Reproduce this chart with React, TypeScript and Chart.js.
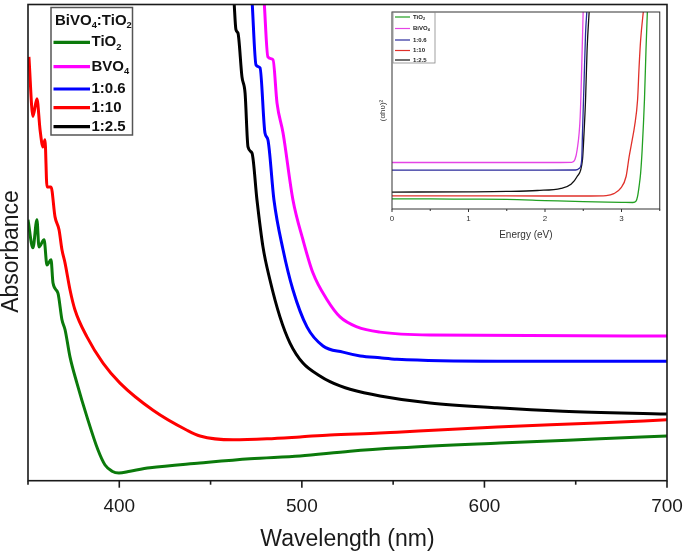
import React, { useEffect, useRef } from "react";
import { Chart, registerables } from "chart.js";

Chart.register(...registerables);

const FONT = "'Liberation Sans', Arial, Helvetica, sans-serif";

// ---------- Main chart data (wavelength nm vs absorbance, a.u.) ----------
const tio2Wl = [350.0, 352.7, 354.9, 356.0, 358.8, 360.4, 362.6, 363.7, 366.4, 368.6, 370.3, 373.0, 376.8, 382.3, 388.3, 392.2, 396.0, 399.8, 405.9, 416.8, 444.2, 471.6, 499.0, 526.4, 553.7, 608.5, 663.3, 700];
const tio2Abs = [0.548, 0.489, 0.548, 0.491, 0.506, 0.453, 0.464, 0.415, 0.394, 0.338, 0.317, 0.26, 0.205, 0.134, 0.065, 0.033, 0.02, 0.016, 0.02, 0.027, 0.037, 0.046, 0.052, 0.062, 0.069, 0.079, 0.088, 0.094];

const bvoWl = [479.3, 481.4, 484.2, 486.4, 489.7, 495.1, 500.6, 506.1, 513.8, 520.9, 530.2, 542.8, 570.2, 700];
const bvoAbs = [1.01, 0.89, 0.884, 0.793, 0.73, 0.59, 0.506, 0.436, 0.38, 0.344, 0.323, 0.312, 0.306, 0.304];

const r06Wl = [472.7, 474.9, 477.1, 479.8, 481.4, 484.7, 489.7, 495.1, 502.8, 511.6, 522.5, 532.0, 542.8, 552.1, 606.9, 700];
const r06Abs = [1.01, 0.873, 0.867, 0.73, 0.716, 0.59, 0.485, 0.401, 0.323, 0.283, 0.27, 0.262, 0.258, 0.255, 0.251, 0.251];

const r10Wl = [350.5, 352.7, 354.9, 356.6, 358.2, 359.3, 360.4, 362.6, 364.8, 367.0, 368.6, 370.3, 373.0, 375.7, 382.3, 391.1, 400.4, 418.5, 437.1, 444.2, 462.3, 480.9, 499.0, 515.4, 542.8, 552.1, 606.9, 661.6, 700];
const r10Abs = [0.89, 0.765, 0.802, 0.737, 0.701, 0.716, 0.617, 0.617, 0.554, 0.527, 0.485, 0.457, 0.401, 0.359, 0.302, 0.247, 0.205, 0.148, 0.106, 0.094, 0.086, 0.088, 0.092, 0.096, 0.1, 0.102, 0.113, 0.121, 0.128];

const r25Wl = [462.8, 463.9, 465.0, 467.2, 468.9, 470.5, 472.7, 475.4, 478.7, 482.5, 488.0, 493.5, 500.6, 509.9, 515.4, 520.9, 526.4, 542.8, 570.2, 606.9, 643.0, 700];
const r25Abs = [1.01, 0.947, 0.94, 0.848, 0.814, 0.701, 0.688, 0.59, 0.491, 0.422, 0.344, 0.289, 0.247, 0.22, 0.208, 0.199, 0.192, 0.178, 0.163, 0.153, 0.146, 0.14];

const mainLabels = ["TiO2", "BVO4", "1:0.6", "1:10", "1:2.5"];
const mainLegendTitle = "BiVO4:TiO2";
const mainColors = ["#0b7a0b", "#ff00ff", "#0000ff", "#ff0000", "#000000"];
const xTickValues = [350, 400, 450, 500, 550, 600, 650, 700];

// ---------- Inset data (energy eV vs (αhν)^2, a.u.) ----------
const inTio2E = [0, 0.5, 1.0, 1.5, 2.0, 2.5, 3.0, 3.15, 3.19, 3.21, 3.23, 3.25, 3.27, 3.3, 3.32, 3.34];
const inTio2V = [0.051, 0.051, 0.05, 0.049, 0.043, 0.037, 0.034, 0.033, 0.04, 0.064, 0.115, 0.182, 0.3, 0.553, 0.806, 1.02];

const inBvoE = [0, 1, 2, 2.35, 2.39, 2.42, 2.46, 2.48, 2.5];
const inBvoV = [0.236, 0.236, 0.236, 0.237, 0.25, 0.3, 0.469, 0.722, 1.02];

const in06E = [0, 1, 2, 2.4, 2.45, 2.48, 2.49, 2.51, 2.53, 2.55];
const in06V = [0.197, 0.197, 0.197, 0.198, 0.207, 0.25, 0.384, 0.637, 0.89, 1.02];

const in10E = [0, 1, 2, 2.6, 2.8, 2.9, 2.99, 3.06, 3.1, 3.14, 3.17, 3.21, 3.23, 3.25, 3.29];
const in10V = [0.067, 0.067, 0.066, 0.066, 0.068, 0.078, 0.106, 0.165, 0.266, 0.351, 0.418, 0.553, 0.722, 0.857, 1.02];

const in25E = [0, 1, 1.5, 1.9, 2.21, 2.34, 2.42, 2.49, 2.51, 2.53, 2.55, 2.58];
const in25V = [0.086, 0.087, 0.089, 0.094, 0.105, 0.126, 0.165, 0.25, 0.384, 0.553, 0.806, 1.02];

const insetLabels = ["TiO2", "BiVO4", "1:0.6", "1:10", "1:2.5"];
const insetColors = ["#22a022", "#e545e5", "#2b2b9c", "#e0302a", "#111111"];
const insetTickValues = [0, 0.5, 1, 1.5, 2, 2.5, 3, 3.5];

function pts(xs: number[], ys: number[]) {
  return xs.map((x, i) => ({ x, y: ys[i] }));
}

// split "TiO2" into segments with subscripted digits that follow a letter
function segs(label: string): [string, boolean][] {
  const out: [string, boolean][] = [];
  const re = /([A-Za-z])(\d+)/g;
  let last = 0;
  let m: RegExpExecArray | null;
  while ((m = re.exec(label))) {
    out.push([label.slice(last, m.index + 1), false]);
    out.push([m[2], true]);
    last = m.index + m[0].length;
  }
  if (last < label.length) out.push([label.slice(last), false]);
  return out;
}

function drawRich(ctx: CanvasRenderingContext2D, label: string, x: number, y: number, size: number, bold: boolean) {
  let cx = x;
  ctx.textBaseline = "middle";
  ctx.textAlign = "left";
  for (const [t, sub] of segs(label)) {
    const s = sub ? size * 0.62 : size;
    ctx.font = `${bold ? "bold " : ""}${s}px ${FONT}`;
    ctx.fillText(t, cx, sub ? y + size * 0.32 : y);
    cx += ctx.measureText(t).width;
  }
}

const mainDecor = {
  id: "mainDecor",
  afterDraw(chart: any) {
    const ctx: CanvasRenderingContext2D = chart.ctx;
    const { left, right, top, bottom } = chart.chartArea;
    const xs = chart.scales.x;
    ctx.save();
    // frame
    ctx.strokeStyle = "#1a1a1a";
    ctx.lineWidth = 1.6;
    ctx.strokeRect(left, top, right - left, bottom - top);
    // ticks
    for (const v of xTickValues) {
      const px = xs.getPixelForValue(v);
      const len = v % 100 === 0 ? 7 : 4;
      ctx.beginPath();
      ctx.moveTo(px, bottom);
      ctx.lineTo(px, bottom + len);
      ctx.stroke();
    }
    // y title
    ctx.save();
    ctx.translate(12, 251.5);
    ctx.rotate(-Math.PI / 2);
    ctx.fillStyle = "#1a1a1a";
    ctx.font = `23px ${FONT}`;
    ctx.textAlign = "center";
    ctx.textBaseline = "middle";
    ctx.fillText("Absorbance", 0, 0);
    ctx.restore();
    // legend
    ctx.strokeStyle = "#555";
    ctx.lineWidth = 1.5;
    ctx.fillStyle = "#fff";
    ctx.fillRect(51, 7.5, 81.5, 127.5);
    ctx.strokeRect(51, 7.5, 81.5, 127.5);
    ctx.fillStyle = "#111";
    drawRich(ctx, mainLegendTitle, 55, 21, 15, true);
    const ys = [42.3, 66.7, 89, 107.7, 126.7];
    chart.data.datasets.forEach((ds: any, i: number) => {
      ctx.strokeStyle = ds.borderColor;
      ctx.lineWidth = 3.2;
      ctx.beginPath();
      ctx.moveTo(53.5, ys[i]);
      ctx.lineTo(90, ys[i]);
      ctx.stroke();
      ctx.fillStyle = "#111";
      drawRich(ctx, ds.label, 91.5, ys[i], 15, true);
    });
    ctx.restore();
  },
};

const insetDecor = {
  id: "insetDecor",
  afterDraw(chart: any) {
    const ctx: CanvasRenderingContext2D = chart.ctx;
    const { left, right, top, bottom } = chart.chartArea;
    const xs = chart.scales.x;
    ctx.save();
    ctx.strokeStyle = "#333";
    ctx.lineWidth = 1;
    ctx.strokeRect(left, top, right - left, bottom - top);
    for (const v of insetTickValues) {
      const px = xs.getPixelForValue(v);
      const len = Math.abs(v - Math.round(v)) < 1e-6 ? 3 : 2;
      ctx.beginPath();
      ctx.moveTo(px, bottom);
      ctx.lineTo(px, bottom + len);
      ctx.stroke();
    }
    // legend
    ctx.strokeStyle = "#888";
    ctx.lineWidth = 0.8;
    ctx.fillStyle = "#fff";
    ctx.fillRect(left + 1, top + 0.5, 42, 50.5);
    ctx.strokeRect(left + 1, top + 0.5, 42, 50.5);
    const ys = [17, 28.5, 40, 50.5, 60];
    chart.data.datasets.forEach((ds: any, i: number) => {
      ctx.strokeStyle = ds.borderColor;
      ctx.lineWidth = 1.2;
      ctx.beginPath();
      ctx.moveTo(left + 3, ys[i]);
      ctx.lineTo(left + 18, ys[i]);
      ctx.stroke();
      ctx.fillStyle = "#222";
      drawRich(ctx, ds.label, left + 21, ys[i], 6, true);
    });
    ctx.restore();
  },
};

export default function App() {
  const mainRef = useRef<HTMLCanvasElement>(null);
  const insetRef = useRef<HTMLCanvasElement>(null);

  useEffect(() => {
    const mainSeries = [
      pts(tio2Wl, tio2Abs),
      pts(bvoWl, bvoAbs),
      pts(r06Wl, r06Abs),
      pts(r10Wl, r10Abs),
      pts(r25Wl, r25Abs),
    ];
    const main = new Chart(mainRef.current!, {
      type: "line",
      data: {
        datasets: mainSeries.map((d, i) => ({
          label: mainLabels[i],
          data: d,
          borderColor: mainColors[i],
          borderWidth: 3,
          pointRadius: 0,
          cubicInterpolationMode: "monotone" as const,
          fill: false,
        })),
      },
      options: {
        responsive: false,
        animation: false,
        layout: { padding: { left: 28, right: 18, top: 4.5, bottom: 0 } },
        plugins: { legend: { display: false }, tooltip: { enabled: false } },
        scales: {
          x: {
            type: "linear",
            min: 350,
            max: 700,
            afterFit: (s: any) => {
              s.height = 74.3;
            },
            grid: {
              display: true,
              drawOnChartArea: false,
              drawTicks: true,
              tickLength: 15,
              color: "rgba(0,0,0,0)",
              tickColor: "rgba(0,0,0,0)",
            },
            border: { display: false },
            ticks: {
              stepSize: 50,
              autoSkip: false,
              maxRotation: 0,
              padding: 0,
              color: "#1a1a1a",
              font: { family: FONT, size: 19 },
              callback: (v: any) => (Number(v) % 100 === 0 ? String(v) : ""),
            },
            title: {
              display: true,
              text: "Wavelength (nm)",
              color: "#1a1a1a",
              font: { family: FONT, size: 23 },
              padding: { top: 0, bottom: 1.5 },
            },
          },
          y: { display: false, min: 0, max: 1 },
        },
      },
      plugins: [mainDecor],
    });

    const insetSeries = [
      pts(inTio2E, inTio2V),
      pts(inBvoE, inBvoV),
      pts(in06E, in06V),
      pts(in10E, in10V),
      pts(in25E, in25V),
    ];
    const inset = new Chart(insetRef.current!, {
      type: "line",
      data: {
        datasets: insetSeries.map((d, i) => ({
          label: insetLabels[i],
          data: d,
          borderColor: insetColors[i],
          borderWidth: 1.3,
          pointRadius: 0,
          cubicInterpolationMode: "monotone" as const,
          fill: false,
        })),
      },
      options: {
        responsive: false,
        animation: false,
        layout: { padding: { left: 0, right: 10.25, top: 12, bottom: 0 } },
        plugins: { legend: { display: false }, tooltip: { enabled: false } },
        scales: {
          x: {
            type: "linear",
            min: 0,
            max: 3.5,
            afterFit: (s: any) => {
              s.height = 41;
            },
            grid: { display: false, drawTicks: false },
            border: { display: false },
            ticks: {
              stepSize: 0.5,
              autoSkip: false,
              maxRotation: 0,
              padding: 5,
              color: "#333",
              font: { family: FONT, size: 8 },
              callback: (v: any) => (Math.abs(Number(v) - Math.round(Number(v))) < 1e-6 ? String(Math.round(Number(v))) : ""),
            },
            title: {
              display: true,
              text: "Energy (eV)",
              color: "#333",
              font: { family: FONT, size: 10 },
              padding: { top: 0, bottom: 9 },
            },
          },
          y: {
            min: 0,
            max: 1,
            afterFit: (s: any) => {
              s.width = 22;
            },
            grid: { display: false },
            border: { display: false },
            ticks: { display: false },
            title: {
              display: true,
              text: "(αhυ)²",
              color: "#333",
              font: { family: FONT, size: 8 },
              padding: { top: 8, bottom: 0 },
            },
          },
        },
      },
      plugins: [insetDecor],
    });

    return () => {
      main.destroy();
      inset.destroy();
    };
  }, []);

  return (
    <div style={{ position: "fixed", left: 0, top: 0, width: 685, height: 555, background: "#fff" }}>
      <canvas ref={mainRef} width={685} height={555} style={{ position: "absolute", left: 0, top: 0 }} />
      <canvas ref={insetRef} width={300} height={250} style={{ position: "absolute", left: 370, top: 0 }} />
    </div>
  );
}
